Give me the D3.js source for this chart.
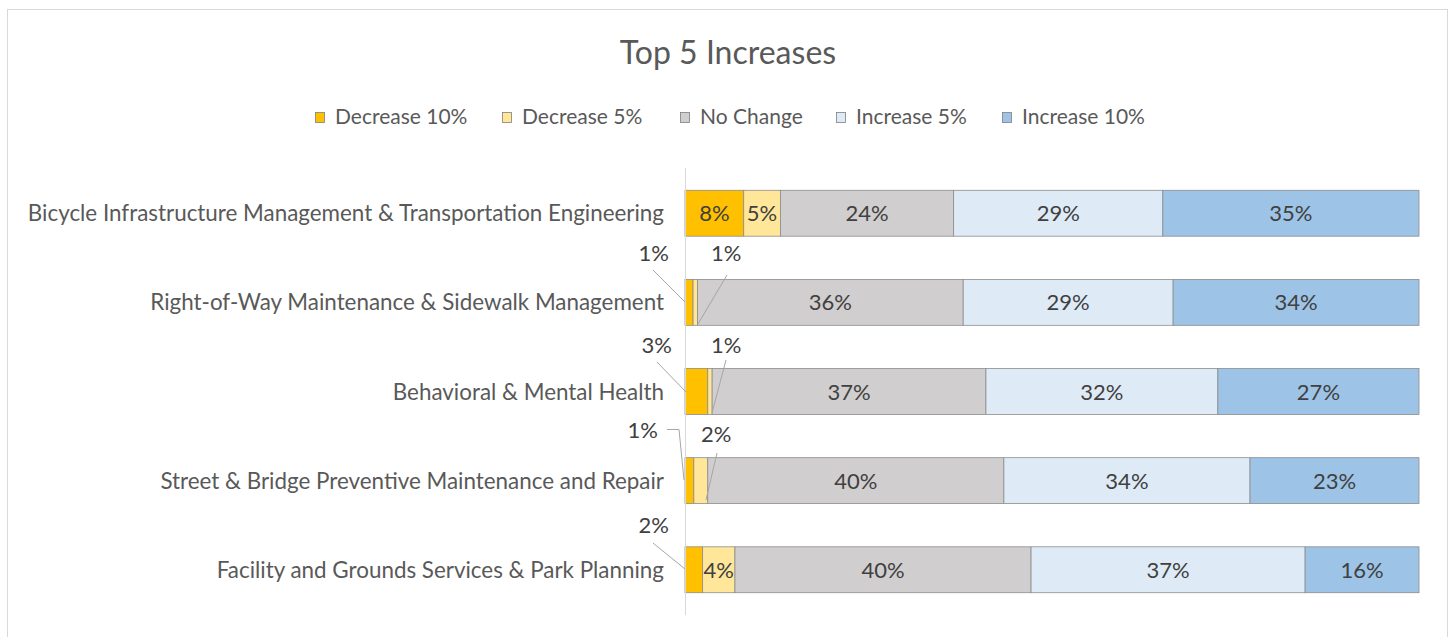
<!doctype html>
<html lang="en">
<head>
  <meta charset="utf-8">
  <title>Top 5 Increases</title>
  <script src="https://d3js.org/d3.v7.min.js"></script>
  <style>
    body { margin: 0; background: #fff; }
    text { font-family: Lato, "Open Sans", sans-serif; }
  </style>
</head>
<body>
<svg id="chart" width="1452" height="637"></svg>
<script>
  // data (percent of responses)
  var categories = [
    "Bicycle Infrastructure Management & Transportation Engineering",
    "Right-of-Way Maintenance & Sidewalk Management",
    "Behavioral & Mental Health",
    "Street & Bridge Preventive Maintenance and Repair",
    "Facility and Grounds Services & Park Planning"
  ];
  var seriesNames = ["Decrease 10%", "Decrease 5%", "No Change", "Increase 5%", "Increase 10%"];
  var decrease10 = [8.0, 1.1, 3.1, 1.2, 2.4];
  var decrease5  = [5.0, 0.6, 0.6, 1.9, 4.4];
  var noChange   = [23.6, 36.2, 37.3, 40.3, 40.3];
  var increase5  = [28.5, 28.6, 31.6, 33.5, 37.3];
  var increase10 = [34.9, 33.5, 27.4, 23.0, 15.5];
  var colors = ["#FFC000", "#FFE699", "#D0CECE", "#DEEBF7", "#9DC3E6"];

  var svg = d3.select("#chart");

  // chart frame
  svg.append("rect")
     .attr("x", 7.5).attr("y", 9.5)
     .attr("width", 1440).attr("height", 640)
     .attr("fill", "#fff")
     .attr("stroke", "#d9d9d9");

  svg.append("text")
     .attr("x", 728).attr("y", 64)
     .attr("text-anchor", "middle")
     .attr("font-size", 32)
     .attr("fill", "#595959")
     .text("Top 5 Increases");

  // legend
  var legendX = [315, 502, 680, 836, 1002];
  var legend = svg.selectAll(".legend")
     .data(seriesNames)
     .enter().append("g")
     .attr("class", "legend")
     .attr("transform", function(d, i) { return "translate(" + legendX[i] + ",117)"; });
  legend.append("rect")
     .attr("x", 0.5).attr("y", -4.5)
     .attr("width", 9).attr("height", 10)
     .attr("fill", function(d, i) { return colors[i]; })
     .attr("stroke", "#7f7f7f").attr("stroke-width", 0.8);
  legend.append("text")
     .attr("x", 20).attr("y", 7)
     .attr("font-size", 21)
     .attr("fill", "#595959")
     .text(function(d) { return d; });

  var rows = categories.map(function(c, i) {
    return { cat: c, vals: [decrease10[i], decrease5[i], noChange[i], increase5[i], increase10[i]] };
  });

  var y = d3.scaleBand()
     .domain(categories)
     .range([168, 615])
     .paddingInner(0.485)
     .paddingOuter(0.25);

  var x = d3.scaleLinear().domain([0, 100]).range([685, 1419]);

  // stacked segments (normalised to 100)
  var segs = [];
  rows.forEach(function(r) {
    var total = d3.sum(r.vals), acc = 0;
    r.vals.forEach(function(v, j) {
      var p = v / total * 100;
      segs.push({ cat: r.cat, s: j, v: v, x0: acc, x1: acc + p });
      acc += p;
    });
  });

  svg.selectAll(".seg")
     .data(segs)
     .enter().append("rect")
     .attr("class", "seg")
     .attr("x", function(d) { return x(d.x0); })
     .attr("y", function(d) { return y(d.cat); })
     .attr("width", function(d) { return x(d.x1) - x(d.x0); })
     .attr("height", y.bandwidth())
     .attr("fill", function(d) { return colors[d.s]; })
     .attr("stroke", "#8c8c8c")
     .attr("stroke-width", 0.8);

  // vertical axis line
  svg.append("line")
     .attr("x1", 685.5).attr("x2", 685.5)
     .attr("y1", 168).attr("y2", 615)
     .attr("stroke", "#d9d9d9");

  // category labels
  svg.selectAll(".cat")
     .data(categories)
     .enter().append("text")
     .attr("class", "cat")
     .attr("x", 664)
     .attr("y", function(d) { return y(d) + y.bandwidth() / 2 + 8; })
     .attr("text-anchor", "end")
     .attr("font-size", 22.4)
     .attr("fill", "#595959")
     .text(function(d) { return d; });

  // labels inside segments wide enough
  svg.selectAll(".lab")
     .data(segs.filter(function(d) { return x(d.x1) - x(d.x0) > 28; }))
     .enter().append("text")
     .attr("class", "lab")
     .attr("x", function(d) { return (x(d.x0) + x(d.x1)) / 2; })
     .attr("y", function(d) { return y(d.cat) + y.bandwidth() / 2 + 8; })
     .attr("text-anchor", "middle")
     .attr("font-size", 22)
     .attr("fill", "#404040")
     .text(function(d) { return Math.round(d.v) + "%"; });

  // callout labels for thin segments: [row, series, label x, label y, anchor, line points]
  var callouts = [
    [1, 0, 669, 261, "end",   [[653, 270], [685, 302]]],
    [1, 1, 711, 261, "start", [[727, 275], [698, 324]]],
    [2, 0, 672, 353, "end",   [[657, 362], [686, 392]]],
    [2, 1, 711, 353, "start", [[726, 360], [712, 413]]],
    [3, 0, 658, 438, "end",   [[667, 429.5], [679, 429.5], [684, 480]]],
    [3, 1, 701, 442, "start", [[717, 453], [706, 500]]],
    [4, 0, 669, 533, "end",   [[653, 543], [685, 569]]]
  ];
  var line = d3.line();
  callouts.forEach(function(c) {
    var d = segs.filter(function(s) { return s.cat === categories[c[0]] && s.s === c[1]; })[0];
    svg.append("path")
       .attr("d", line(c[5]))
       .attr("fill", "none")
       .attr("stroke", "#a6a6a6")
       .attr("stroke-width", 1);
    svg.append("text")
       .attr("x", c[2]).attr("y", c[3])
       .attr("text-anchor", c[4])
       .attr("font-size", 22)
       .attr("fill", "#404040")
       .text(Math.round(d.v) + "%");
  });
</script>
</body>
</html>
